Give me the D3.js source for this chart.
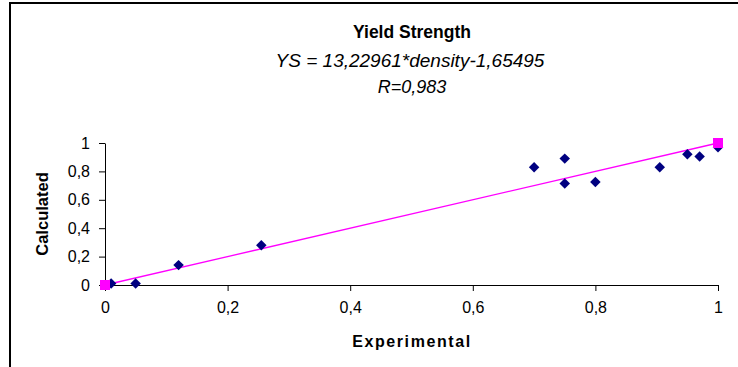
<!DOCTYPE html>
<html>
<head>
<meta charset="utf-8">
<script src="https://cdn.jsdelivr.net/npm/d3@7"></script>
<style>
  html, body { margin: 0; padding: 0; background: #fff; }
  svg { display: block; font-family: "Liberation Sans", Arial, sans-serif; }
</style>
</head>
<body>
<svg id="chart" width="738" height="367"></svg>
<script>
// Measured (experimental) vs. model (calculated) yield strength, normalised
const experimental = [0.01, 0.05, 0.12, 0.255, 0.70, 0.75, 0.75, 0.80, 0.905, 0.95, 0.97, 1.00];
const calculated   = [0.01, 0.01, 0.14, 0.28, 0.83, 0.89, 0.715, 0.725, 0.83, 0.92, 0.905, 0.97];

// Ideal agreement line end points
const idealX = [0, 1];
const idealY = [0, 1];

const xTicks = [0, 0.2, 0.4, 0.6, 0.8, 1];
const yTicks = [0, 0.2, 0.4, 0.6, 0.8, 1];

const titleLines = ["Yield Strength", "YS = 13,22961*density-1,65495", "R=0,983"];
const xLabel = "Experimental";
const yLabel = "Calculated";

const svg = d3.select("#chart");
const fmt = d => String(d).replace(".", ",");

const x = d3.scaleLinear().domain([0, 1]).range([105, 718]);
const y = d3.scaleLinear().domain([0, 1]).range([285, 143]);

// outer frame
svg.append("rect")
  .attr("x", 10).attr("y", 3)
  .attr("width", 730).attr("height", 380)
  .attr("fill", "none").attr("stroke", "#000").attr("stroke-width", 2);

// title block
const title = svg.append("g").attr("text-anchor", "middle");
title.append("text").attr("x", 412).attr("y", 38)
  .attr("font-size", 17.5).attr("font-weight", "bold").text(titleLines[0]);
title.append("text").attr("x", 410).attr("y", 67)
  .attr("font-size", 19).attr("font-style", "italic").text(titleLines[1]);
title.append("text").attr("x", 412).attr("y", 93)
  .attr("font-size", 18).attr("font-style", "italic").text(titleLines[2]);

// axes
const xAxis = d3.axisBottom(x).tickValues(xTicks).tickFormat(fmt).tickSize(6).tickSizeOuter(0).tickPadding(11);
const yAxis = d3.axisLeft(y).tickValues(yTicks).tickFormat(fmt).tickSize(6).tickSizeOuter(0).tickPadding(9);

const gx = svg.append("g").attr("transform", `translate(0,${y(0)})`).call(xAxis);
const gy = svg.append("g").attr("transform", `translate(${x(0)},0)`).call(yAxis);
[gx, gy].forEach(g => {
  g.selectAll("path, line").attr("stroke", "#000").attr("stroke-width", 1);
  g.selectAll("text").attr("font-size", 16).attr("fill", "#000")
    .attr("font-family", "'Liberation Sans', Arial, sans-serif");
});

// axis titles
svg.append("text")
  .attr("x", 412).attr("y", 347)
  .attr("text-anchor", "middle").attr("font-size", 16).attr("font-weight", "bold")
  .attr("letter-spacing", 1.6)
  .text(xLabel);
svg.append("text")
  .attr("transform", `translate(48,${(y(0) + y(1)) / 2}) rotate(-90)`)
  .attr("text-anchor", "middle").attr("font-size", 16.5).attr("font-weight", "bold")
  .text(yLabel);

// ideal line
svg.append("line")
  .attr("x1", x(idealX[0])).attr("y1", y(idealY[0]))
  .attr("x2", x(idealX[1])).attr("y2", y(idealY[1]))
  .attr("stroke", "#ff00ff").attr("stroke-width", 1.3);

// data points (navy diamonds)
const diamond = d3.symbol().type(d3.symbolSquare).size(55);
svg.append("g").selectAll("path")
  .data(experimental.map((e, i) => [e, calculated[i]]))
  .join("path")
  .attr("d", diamond)
  .attr("transform", d => `translate(${x(d[0])},${y(d[1])}) rotate(45)`)
  .attr("fill", "#000080");

// ideal line end markers (magenta squares)
svg.append("g").selectAll("rect")
  .data(idealX.map((v, i) => [v, idealY[i]]))
  .join("rect")
  .attr("x", d => x(d[0]) - 5).attr("y", d => y(d[1]) - 5)
  .attr("width", 10).attr("height", 10)
  .attr("fill", "#ff00ff");
</script>
</body>
</html>
